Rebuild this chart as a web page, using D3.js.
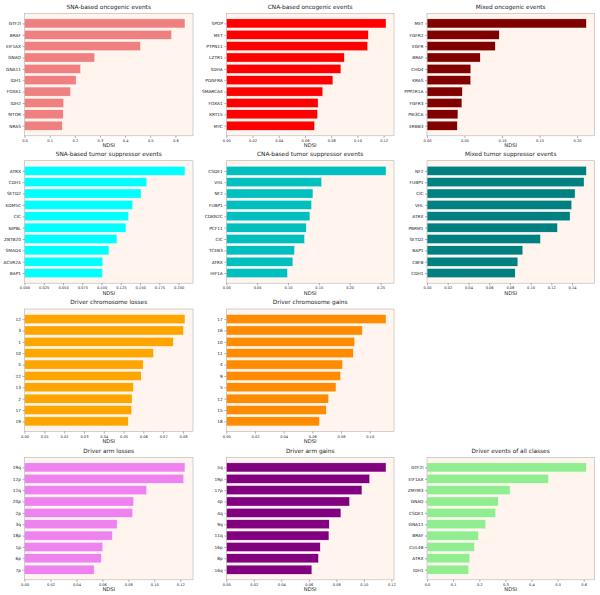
<!DOCTYPE html>
<html><head><meta charset="utf-8">
<script src="https://cdn.jsdelivr.net/npm/d3@7"></script>
<style>html,body{margin:0;padding:0;background:#fff}svg{display:block}</style>
</head><body>
<svg id="c" width="600" height="595"></svg>
<script>
// ---- data (top bar first) ----
const titles = ["SNA-based oncogenic events","CNA-based oncogenic events","Mixed oncogenic events",
  "SNA-based tumor suppressor events","CNA-based tumor suppressor events","Mixed tumor suppressor events",
  "Driver chromosome losses","Driver chromosome gains",null,
  "Driver arm losses","Driver arm gains","Driver events of all classes"];
const colors = ["#F08080","#FF0000","#800000","#00FFFF","#00BFBF","#008080","#FFA500","#FF8C00",null,"#EE82EE","#800080","#90EE90"];

const snaOncLabels = ["GTF2I","BRAF","EIF1AX","GNAQ","GNA11","IDH1","FOXA1","IDH2","MTOR","NRAS"];
const snaOncValues = [0.638,0.585,0.461,0.279,0.223,0.205,0.183,0.156,0.154,0.150];
const cnaOncLabels = ["SPOP","MET","PTPN11","LZTR1","SDHA","PDGFRA","SMARCA4","FOXA1","KRT15","MYC"];
const cnaOncValues = [0.1218,0.1083,0.1078,0.0900,0.0874,0.0813,0.0736,0.0700,0.0696,0.0673];
const mixOncLabels = ["MET","FGFR2","EGFR","BRAF","CHD4","KRAS","PPP2R1A","FGFR3","PIK3CA","ERBB3"];
const mixOncValues = [0.2123,0.0962,0.0909,0.0709,0.0584,0.0582,0.0470,0.0465,0.0412,0.0403];
const snaTsLabels = ["ATRX","CDH1","SETD2","KDM5C","CIC","NIPBL","ZBTB20","SMAD4","ACVR2A","BAP1"];
const snaTsValues = [0.2083,0.1587,0.1513,0.1404,0.1352,0.1317,0.1200,0.1096,0.1017,0.1013];
const cnaTsLabels = ["CSDE1","VHL","NF2","FUBP1","CDKN2C","PCF11","CIC","TCEB3","ATRX","HIF1A"];
const cnaTsValues = [0.259,0.1546,0.1405,0.1383,0.1356,0.1296,0.1269,0.1106,0.1080,0.0992];
const mixTsLabels = ["NF2","FUBP1","CIC","VHL","ATRX","PBRM1","SETD2","BAP1","CBFB","CDH1"];
const mixTsValues = [0.1538,0.1516,0.1429,0.1397,0.1381,0.1259,0.1095,0.0925,0.0877,0.0851];
const chrLossLabels = ["12","3","1","10","5","22","13","2","17","19"];
const chrLossValues = [0.0810,0.0803,0.0751,0.0651,0.0599,0.0589,0.0550,0.0543,0.0541,0.0524];
const chrGainLabels = ["17","16","10","11","4","9","5","12","15","18"];
const chrGainValues = [0.1114,0.0949,0.0895,0.0886,0.0811,0.0797,0.0765,0.0713,0.0697,0.0650];
const armLossLabels = ["19q","12p","12q","20p","2p","3q","18p","1p","6p","7p"];
const armLossValues = [0.1236,0.1226,0.0941,0.0841,0.0833,0.0713,0.0677,0.0603,0.0592,0.0536];
const armGainLabels = ["5q","19p","17p","4p","4q","9q","11q","16p","8p","16q"];
const armGainValues = [0.1161,0.1042,0.0986,0.0896,0.0833,0.0748,0.0746,0.0683,0.0670,0.0622];
const allLabels = ["GTF2I","EIF1AX","ZMYM3","GNAQ","CSDE1","GNA11","BRAF","CUL4B","ATRX","IDH1"];
const allValues = [0.610,0.465,0.318,0.273,0.263,0.225,0.197,0.182,0.164,0.160];

const ticks1 = ["0.0","0.1","0.2","0.3","0.4","0.5","0.6"];
const ticks2 = ["0.00","0.02","0.04","0.06","0.08","0.10","0.12"];
const ticks3 = ["0.00","0.05","0.10","0.15","0.20"];
const ticks4 = ["0.000","0.025","0.050","0.075","0.100","0.125","0.150","0.175","0.200"];
const ticks5 = ["0.00","0.05","0.10","0.15","0.20","0.25"];
const ticks6 = ["0.00","0.02","0.04","0.06","0.08","0.10","0.12","0.14"];
const ticks7 = ["0.00","0.01","0.02","0.03","0.04","0.05","0.06","0.07","0.08"];
const ticks8 = ["0.00","0.02","0.04","0.06","0.08","0.10"];
const ticks9 = ["0.00","0.02","0.04","0.06","0.08","0.10","0.12"];
const ticks10 = ["0.00","0.02","0.04","0.06","0.08","0.10","0.12"];
const ticks11 = ["0.0","0.1","0.2","0.3","0.4","0.5","0.6"];
const xLabel = "NDSI";

const panels = [
  [snaOncLabels,snaOncValues,ticks1],[cnaOncLabels,cnaOncValues,ticks2],[mixOncLabels,mixOncValues,ticks3],
  [snaTsLabels,snaTsValues,ticks4],[cnaTsLabels,cnaTsValues,ticks5],[mixTsLabels,mixTsValues,ticks6],
  [chrLossLabels,chrLossValues,ticks7],[chrGainLabels,chrGainValues,ticks8],null,
  [armLossLabels,armLossValues,ticks9],[armGainLabels,armGainValues,ticks10],[allLabels,allValues,ticks11]
];

// ---- layout ----
const rowTop = [13.3,160.7,309,457.3];
const plotH = 122.5;
const colL = [24.5,226.3,427];
const colR = [193,394,594.3];
const font = "DejaVu Sans, sans-serif";

const svg = d3.select("#c");
panels.forEach((p,i)=>{
  if(!p) return;
  const [labels,values,ticks] = p;
  const r = Math.floor(i/3), c = i%3;
  const x0 = colL[c], x1 = colR[c], y0 = rowTop[r], y1 = rowTop[r]+plotH;
  const g = svg.append("g");
  const xs = d3.scaleLinear().domain([0, d3.max(values)*1.05]).range([x0,x1]);
  const ys = d3.scaleLinear().domain([-0.89, 9.89]).range([y1,y0]);
  g.append("rect").attr("x",x0).attr("y",y0).attr("width",x1-x0).attr("height",y1-y0)
    .attr("fill","#FFF5EE");
  g.selectAll("rect.bar").data(values).join("rect").attr("class","bar")
    .attr("x",xs(0)).attr("y",(d,k)=>ys(9-k+0.4))
    .attr("width",d=>xs(d)-xs(0)).attr("height",(d,k)=>ys(9-k-0.4)-ys(9-k+0.4))
    .attr("fill",colors[i]).attr("stroke","#ffffff").attr("stroke-width",0.4);
  g.append("rect").attr("x",x0).attr("y",y0).attr("width",x1-x0).attr("height",y1-y0)
    .attr("fill","none").attr("stroke","#b3b3b3").attr("stroke-width",0.6);
  // x axis
  const xa = g.append("g").attr("transform",`translate(0,${y1})`)
    .call(d3.axisBottom(xs).tickValues(ticks.map(Number)).tickFormat((d,k)=>ticks[k]).tickSize(2).tickPadding(1.5));
  xa.select(".domain").remove();
  xa.selectAll("line").attr("stroke","#333").attr("stroke-width",0.4);
  xa.selectAll("text").attr("font-size",3.6).attr("font-family",font).attr("fill","#222");
  // y axis
  const ya = g.append("g").attr("transform",`translate(${x0},0)`)
    .call(d3.axisLeft(ys).tickValues(d3.range(10)).tickFormat(v=>labels[9-v]).tickSize(2).tickPadding(1.5));
  ya.select(".domain").remove();
  ya.selectAll("line").attr("stroke","#333").attr("stroke-width",0.4);
  ya.selectAll("text").attr("font-size",4.3).attr("font-family",font).attr("fill","#222");
  // title & x label
  g.append("text").attr("x",(x0+x1)/2).attr("y",y0-4.6).attr("text-anchor","middle")
    .attr("font-size",5.8).attr("font-family",font).attr("fill","#222").text(titles[i]);
  g.append("text").attr("x",(x0+x1)/2).attr("y",y1+11.3).attr("text-anchor","middle")
    .attr("font-size",5.2).attr("font-family",font).attr("fill","#222").text(xLabel);
});
</script>
</body></html>
